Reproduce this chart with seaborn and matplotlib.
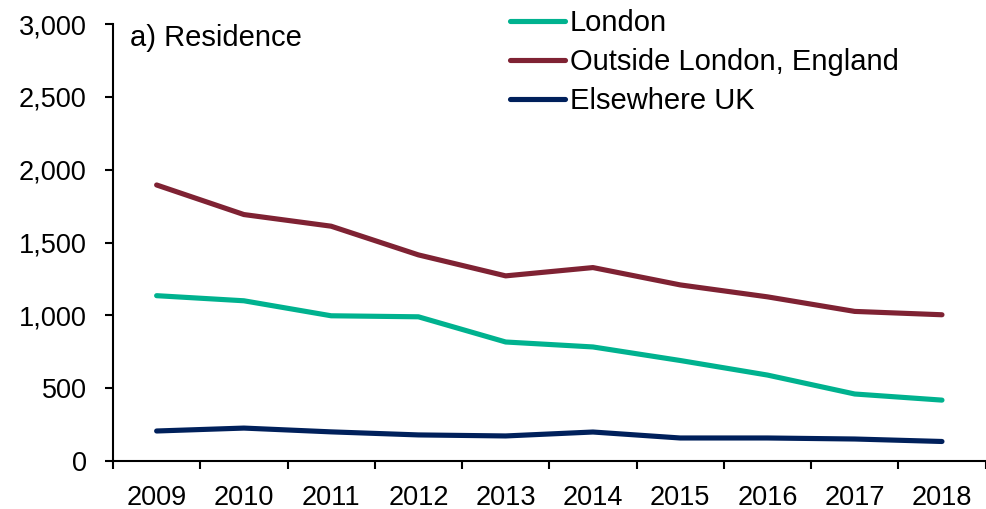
import pandas as pd
import seaborn as sns
import matplotlib.pyplot as plt
from matplotlib.ticker import FuncFormatter, FixedLocator

# -----------------------
# 1. Data
# -----------------------

years = [2009, 2010, 2011, 2012, 2013, 2014, 2015, 2016, 2017, 2018]
london = [1135, 1100, 997, 990, 817, 783, 690, 590, 460, 418]
outside_london = [1895, 1692, 1612, 1415, 1271, 1328, 1209, 1127, 1027, 1004]
elsewhere_uk = [206, 226, 200, 179, 172, 199, 158, 158, 151, 134]

series_names = ["London", "Outside London, England", "Elsewhere UK"]
colors = ["#00B28F", "#7F2233", "#00205B"]

df = pd.DataFrame({
    "year": years * 3,
    "value": london + outside_london + elsewhere_uk,
    "region": [n for n in series_names for _ in years],
})

# -----------------------
# 2. Plot
# -----------------------

sns.set_style("ticks")
plt.rcParams["font.family"] = ["Liberation Sans", "DejaVu Sans"]
plt.rcParams["text.color"] = "black"
plt.rcParams["xtick.color"] = "black"
plt.rcParams["ytick.color"] = "black"

fig = plt.figure(figsize=(9.86, 5.09), dpi=100)
ax = fig.add_axes([0.1146, 0.0943, 0.885, 0.8585])

sns.lineplot(
    data=df, x="year", y="value", hue="region",
    hue_order=series_names, palette=colors,
    linewidth=3.7, ax=ax,
)
for line in ax.get_lines():
    line.set_solid_capstyle("round")

ax.set_xlim(2008.5, 2018.5)
ax.set_ylim(0, 3000)
ax.set_yticks(range(0, 3001, 500))
ax.yaxis.set_major_formatter(FuncFormatter(lambda v, p: f"{int(v):,}"))

# category-style x axis: labels centred, ticks between categories
ax.set_xticks(years)
ax.xaxis.set_minor_locator(FixedLocator([y - 0.5 for y in years] + [2018.5]))
ax.tick_params(axis="x", which="major", length=0, pad=17, labelsize=19.5)
ax.tick_params(axis="x", which="minor", length=6, width=1.5, color="black")
ax.tick_params(axis="y", length=6, width=1.5, pad=13, labelsize=19.5, color="black")

ax.set_xlabel("")
ax.set_ylabel("")
for side in ["top", "right"]:
    ax.spines[side].set_visible(False)
for side in ["left", "bottom"]:
    ax.spines[side].set_linewidth(1.5)
    ax.spines[side].set_color("black")

ax.text(130 / 986, 1 - 38 / 509, "a) Residence", transform=fig.transFigure,
        fontsize=21, va="center", ha="left")

ax.legend(
    loc="upper left", bbox_to_anchor=(510 / 986, 1 - 9 / 509),
    bbox_transform=fig.transFigure, frameon=False, fontsize=21,
    handlelength=1.88, handletextpad=0.17, borderpad=0, borderaxespad=0,
    labelspacing=0.38,
)

plt.savefig("out.png", dpi=100)
